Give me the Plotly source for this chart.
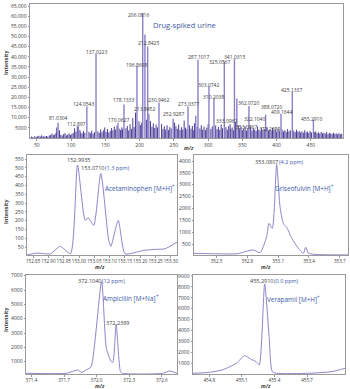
import plotly.graph_objects as go

# ---------------- DATA ----------------
# Top panel: drug-spiked urine full-scan stick spectrum
major_mz = [81.0, 110.5, 123.0, 136.4, 168.5, 177.2, 196.2, 204.6, 207.8, 211.8,
            213.6, 228.3, 249.0, 270.7, 282.0, 285.3, 301.3, 308.6, 323.7, 338.5,
            342.0, 359.7, 384.0, 406.5, 423.0, 453.8]
major_int = [7500, 6000, 15500, 41500, 7500, 16500, 35500, 61500, 51000, 45000,
             12000, 17500, 9500, 15500, 11000, 38500, 25500, 19500, 37500, 39000,
             19500, 15800, 11500, 11800, 23000, 9000]

minor_mz = [42.1, 44.0, 46.9, 49.0, 51.1, 53.0, 55.1, 57.0, 59.1, 60.1,
            62.0, 64.1, 66.0, 68.1, 70.1, 72.1, 74.1, 76.1, 78.0, 79.1,
            83.1, 85.0, 87.1, 89.1, 91.1, 93.1, 95.1, 97.1, 99.1, 101.1,
            103.1, 105.1, 107.1, 109.1, 112.9, 114.1, 116.1, 118.1, 120.1, 126.1,
            128.1, 130.1, 132.1, 134.1, 139.1, 141.1, 143.1, 145.1, 147.1, 149.1,
            151.1, 153.1, 155.1, 157.1, 159.1, 161.1, 163.1, 165.1, 167.1, 170.1,
            172.1, 174.1, 175.1, 180.1, 182.1, 184.1, 186.1, 188.1, 190.1, 192.1,
            194.1, 199.1, 201.1, 203.1, 209.9, 215.9, 218.1, 220.1, 222.1, 224.1,
            226.1, 232.1, 234.1, 236.1, 238.1, 240.1, 242.1, 244.1, 246.1, 251.1,
            253.1, 255.1, 257.1, 259.1, 261.1, 263.1, 265.1, 267.1, 269.1, 273.0,
            275.1, 277.1, 279.1, 280.1, 284.1, 288.1, 290.1, 292.1, 294.1, 296.1,
            298.1, 300.1, 304.1, 306.1, 311.1, 313.1, 315.1, 317.1, 319.1, 321.1,
            326.1, 328.1, 330.1, 332.1, 333.1, 335.1, 337.1, 340.1, 344.1, 346.1,
            348.1, 350.1, 352.1, 354.1, 356.1, 358.1, 362.1, 364.1, 366.1, 368.1,
            370.1, 372.1, 374.1, 376.1, 378.1, 380.1, 382.1, 386.1, 388.1, 390.1,
            392.1, 394.1, 396.1, 398.1, 400.1, 402.1, 404.1, 408.1, 410.1, 412.1,
            414.1, 416.1, 418.1, 420.1, 425.1, 427.1, 429.1, 431.1, 433.1, 435.1,
            437.1, 439.1, 441.1, 443.1, 445.1, 447.1, 449.1, 451.1, 455.1, 457.1,
            459.1, 461.1, 463.1, 465.1, 467.1, 469.1, 471.1, 473.1, 475.1, 477.1,
            479.1, 481.1, 483.1, 485.1, 487.1, 489.1, 491.1, 493.1, 495.1]
minor_int = [700, 500, 900, 600, 800, 1100, 700, 1300, 900, 600,
             800, 1000, 700, 1200, 1500, 2200, 1400, 1800, 2600, 5200,
             3800, 1600, 1200, 1900, 2400, 1300, 1700, 2200, 1500, 2000,
             2600, 4800, 3200, 5600, 3900, 2800, 2200, 3400, 2600, 3000,
             2400, 3600, 2100, 2900, 3300, 2500, 4200, 2800, 3800, 5200,
             3000, 4400, 2700, 3500, 4900, 3800, 5600, 4200, 6100, 4600,
             3900, 5200, 4300, 4800, 5900, 3700, 6800, 4500, 9800, 5400,
             12500, 8200, 6400, 7600, 9000, 8300, 5500, 7200, 4900, 6600,
             5200, 6900, 4400, 5800, 4100, 6300, 3900, 5400, 4700, 7600,
             5800, 4500, 6700, 3900, 5300, 4200, 8600, 5100, 4300, 6200,
             4600, 5900, 3800, 7200, 5400, 4700, 6300, 4100, 5600, 3900,
             5100, 6800, 4400, 5700, 6200, 4300, 5500, 4000, 6600, 4800,
             5300, 4100, 5900, 6800, 4500, 5200, 3800, 7400, 6100, 4700,
             5500, 3900, 4600, 5800, 3600, 4900, 5400, 3700, 4800, 4200,
             3500, 5600, 4100, 3300, 4700, 3900, 4400, 5200, 3600, 4300,
             3400, 5000, 3700, 4200, 3100, 4600, 3500, 4100, 3200, 3900,
             3000, 4400, 3300, 3800, 3600, 2900, 4100, 3100, 3500, 2700,
             3300, 2600, 3800, 2800, 3100, 2500, 3400, 2700, 2900, 3200,
             2400, 2800, 2200, 3000, 2300, 2600, 2100, 2900, 2000, 2500,
             2200, 1900, 2600, 2000, 2300, 1800, 2400, 1900, 2100]

# Peak labels of the top panel: (text, m/z, intensity)
top_labels = [
    ("206.0816", 198.1, 60600), ("212.8425", 212.3, 46700), ("137.0223", 136.4, 42300),
    ("196.8698", 196.2, 35900), ("124.0543", 118.8, 16700), ("178.1333", 177.2, 18700),
    ("230.9462", 228.3, 18700), ("213.8452", 207.9, 14300), ("81.0304", 80.9, 9800),
    ("112.897", 108.6, 6900), ("170.0627", 168.5, 8850), ("252.9287", 248.8, 11800),
    ("273.0377", 270.7, 16700), ("287.1017", 285.3, 39800), ("303.0742", 301.3, 26100),
    ("310.2038", 308.6, 20200), ("325.0567", 316.0, 37400), ("341.0315", 339.3, 39800),
    ("362.0720", 359.7, 17200), ("388.0720", 393.3, 15200), ("409.1644", 407.9, 12800),
    ("425.1337", 422.5, 23600), ("455.2910", 451.7, 9300), ("333.0962", 327.6, 8400),
    ("322.1040", 368.5, 9300), ("353.0867", 356.8, 5400), ("372.2389", 390.0, 4400),
]
top_xticks = [50, 100, 150, 200, 250, 300, 350, 400, 450]
top_yticks = [5000, 10000, 15000, 20000, 25000, 30000, 35000, 40000, 45000, 50000, 55000, 60000, 65000]
top_yticktext = ["5000", "10,000", "15,000", "20,000", "25,000", "30,000", "35,000",
                 "40,000", "45,000", "50,000", "55,000", "60,000", "65,000"]

# Acetaminophen [M+H]+ profile
acet_mz = [152.830, 152.862, 152.906, 152.939, 152.972, 152.995, 153.020, 153.030, 153.048,
           153.071, 153.097, 153.104, 153.128, 153.150, 153.180, 153.210, 153.250, 153.280, 153.320]
acet_int = [5, 16, 12, 54, 12, 516, 202, 217, 173,
            468, 88, 54, 202, 12, 18, 31, 37, 40, 78]
acet_xticks = [152.85, 152.90, 152.95, 153.00, 153.05, 153.10, 153.15, 153.20, 153.25, 153.30]
acet_yticks = [50, 100, 150, 200, 250, 300, 350, 400, 450, 500, 550]

# Griseofulvin [M+H]+ profile
gris_mz = [352.28, 352.35, 352.45, 352.60, 352.70, 352.858, 352.923, 352.988, 353.01, 353.043,
           353.085, 353.118, 353.15, 353.183, 353.232, 353.296, 353.345, 353.368, 353.393, 353.459, 353.78]
gris_int = [108, 100, 90, 80, 90, 250, 136, 808, 1370, 1160,
            3860, 2070, 1370, 1200, 740, 320, 110, 360, 120, 60, 40]
gris_xticks = [352.5, 352.8, 353.1, 353.4, 353.7]
gris_yticks = [500, 1000, 1500, 2000, 2500, 3000, 3500, 4000]

# Ampicillin [M+Na]+ profile
amp_mz = [371.35, 371.72, 371.83, 371.86, 371.92, 371.95, 372.046, 372.09, 372.135, 372.15,
          372.18, 372.22, 372.24, 372.61, 372.67, 372.74]
amp_int = [190, 190, 420, 256, 490, 650, 6580, 1930, 1000, 953,
           3600, 300, 186, 186, 350, 186]
amp_xticks = [371.4, 371.7, 372.0, 372.3, 372.6]
amp_yticks = [1000, 2000, 3000, 4000, 5000, 6000, 7000]

# Verapamil [M+H]+ profile
vera_mz = [454.65, 454.80, 454.92, 454.99, 455.05, 455.125, 455.18, 455.23, 455.26, 455.31,
           455.35, 455.38, 455.42, 455.71, 455.93, 456.05]
vera_int = [84, 175, 390, 695, 1000, 1700, 1400, 1150, 850, 8270,
            3600, 240, 84, 84, 240, 540]
vera_xticks = [454.8, 455.1, 455.4, 455.7]
vera_yticks = [1000, 2000, 3000, 4000, 5000, 6000, 7000, 8000, 9000]

# ---------------- STYLE ----------------
W, H = 350, 389
BLUE = "#3a58a8"
GRAY_TXT = "#3c3c3c"
LINE = "#8c86c8"
FONT = "Open Sans"

def px(x):
    return x / W

def py(y):
    return 1 - y / H

def sticks(mz, inten):
    xs, ys = [], []
    for m, i in zip(mz, inten):
        xs += [m, m, None]
        ys += [0, i, None]
    return xs, ys

fig = go.Figure()

xs, ys = sticks(minor_mz, minor_int)
fig.add_trace(go.Scatter(x=xs, y=ys, mode="lines", line=dict(color="#4a3c98", width=1),
                         xaxis="x", yaxis="y", hoverinfo="skip"))
xs, ys = sticks(major_mz, major_int)
fig.add_trace(go.Scatter(x=xs, y=ys, mode="lines", line=dict(color="#8a80c6", width=1.4),
                         xaxis="x", yaxis="y", hoverinfo="skip"))

for mz, it, ax in [(acet_mz, acet_int, "2"), (gris_mz, gris_int, "3"),
                   (amp_mz, amp_int, "4"), (vera_mz, vera_int, "5")]:
    fig.add_trace(go.Scatter(x=mz, y=it, mode="lines",
                             line=dict(color=LINE, width=1, shape="spline", smoothing=0.6),
                             xaxis="x" + ax, yaxis="y" + ax, hoverinfo="skip"))

axis_common = dict(showline=True, mirror=True, linecolor="#9a9a9a", linewidth=1,
                   ticks="outside", ticklen=1.5, tickcolor="#9a9a9a", showgrid=False,
                   zeroline=False, tickangle=0, automargin=False, ticklabeloverflow="allow",
                   tickfont=dict(family=FONT, size=5, color=GRAY_TXT))

def fmt(v, nd):
    return f"{v:.{nd}f}"

layout = dict(
    width=W, height=H, margin=dict(l=0, r=0, t=0, b=0),
    paper_bgcolor="white", plot_bgcolor="white", showlegend=False,
    font=dict(family=FONT),
    xaxis=dict(domain=[px(30), px(343)], range=[40, 497], anchor="y",
               tickvals=top_xticks, **axis_common),
    yaxis=dict(domain=[py(138), py(4)], range=[0, 66000], anchor="x",
               tickvals=top_yticks, ticktext=top_yticktext, **axis_common),
    xaxis2=dict(domain=[px(27), px(177)], range=[152.83, 153.32], anchor="y2",
                tickvals=acet_xticks, ticktext=[fmt(v, 2) for v in acet_xticks], **axis_common),
    yaxis2=dict(domain=[py(255), py(155)], range=[5, 573], anchor="x2",
                tickvals=acet_yticks, **axis_common),
    xaxis3=dict(domain=[px(194), px(348)], range=[352.28, 353.78], anchor="y3",
                tickvals=gris_xticks, ticktext=[fmt(v, 1) for v in gris_xticks], **axis_common),
    yaxis3=dict(domain=[py(255), py(155)], range=[36, 4253], anchor="x3",
                tickvals=gris_yticks, **axis_common),
    xaxis4=dict(domain=[px(26), px(177)], range=[371.35, 372.74], anchor="y4",
                tickvals=amp_xticks, ticktext=[fmt(v, 1) for v in amp_xticks], **axis_common),
    yaxis4=dict(domain=[py(374), py(275)], range=[140, 7050], anchor="x4",
                tickvals=amp_yticks, **axis_common),
    xaxis5=dict(domain=[px(193), px(345)], range=[454.65, 456.05], anchor="y5",
                tickvals=vera_xticks, ticktext=[fmt(v, 1) for v in vera_xticks], **axis_common),
    yaxis5=dict(domain=[py(374), py(275)], range=[20, 9090], anchor="x5",
                tickvals=vera_yticks, **axis_common),
)
fig.update_layout(**layout)
fig.update_xaxes(tickfont=dict(size=4.6))
fig.update_layout(xaxis=dict(tickfont=dict(size=5)))

ann = []
# top peak labels
for t, x, y in top_labels:
    ann.append(dict(text=t, x=x, y=y, xref="x", yref="y", showarrow=False,
                    borderpad=0, borderwidth=0,
                    font=dict(family=FONT, size=5, color=GRAY_TXT), xanchor="center", yanchor="middle"))

def paper_text(text, x, y, size, color, angle=0, bold=False, italic=False, xanchor="center"):
    if italic:
        text = "<i>" + text + "</i>"
    if bold:
        text = "<b>" + text + "</b>"
    ann.append(dict(text=text, x=px(x), y=py(y), xref="paper", yref="paper", showarrow=False,
                    borderpad=0, borderwidth=0,
                    font=dict(family=FONT, size=size, color=color), textangle=angle,
                    xanchor=xanchor, yanchor="middle"))

paper_text("Drug-spiked urine", 184, 25, 7.5, BLUE)
# axis titles
paper_text("m/z", 189, 148.5, 5.2, GRAY_TXT, bold=True, italic=True)
paper_text("m/z", 100, 266.5, 5.2, GRAY_TXT, bold=True, italic=True)
paper_text("m/z", 266, 266.5, 5.2, GRAY_TXT, bold=True, italic=True)
paper_text("m/z", 100, 385.5, 5.2, GRAY_TXT, bold=True, italic=True)
paper_text("m/z", 266, 385.5, 5.2, GRAY_TXT, bold=True, italic=True)
paper_text("Intensity", 6, 63, 5.5, GRAY_TXT, angle=-90, bold=True)
paper_text("Intensity", 6, 212, 5.5, GRAY_TXT, angle=-90, bold=True)
paper_text("Intensity", 6, 320, 5.5, GRAY_TXT, angle=-90, bold=True)

# panel labels: mass value (gray) followed by ppm error (blue)
def mass_label(mass, ppm, x_end, y):
    paper_text(mass, x_end, y, 5.5, GRAY_TXT, xanchor="right")
    paper_text(ppm, x_end + 1.2, y, 5.5, BLUE, xanchor="left")

def ion_label(name, x_end, y):
    paper_text(name, x_end - 2.5, y, 6.4, BLUE, xanchor="right")
    paper_text("+", x_end - 2.2, y - 2.4, 4.4, BLUE, xanchor="left")

paper_text("152.9935", 78, 160, 5.5, GRAY_TXT)
mass_label("153.0710", "(1.3 ppm)", 103.5, 167.5)
ion_label("Acetaminophen [M+H]", 174, 188)

mass_label("353.0807", "(4.2 ppm)", 277.5, 162)
ion_label("Griseofulvin [M+H]", 333, 188)

mass_label("372.1040", "(12 ppm)", 100.5, 281)
ion_label("Ampicillin [M+Na]", 158, 298)
paper_text("372.2389", 117, 323, 5.5, GRAY_TXT)

mass_label("455.2910", "(0.0 ppm)", 272.5, 281)
ion_label("Verapamil [M+H]", 319, 299)

fig.update_layout(annotations=ann)
fig.write_html("out.html")
